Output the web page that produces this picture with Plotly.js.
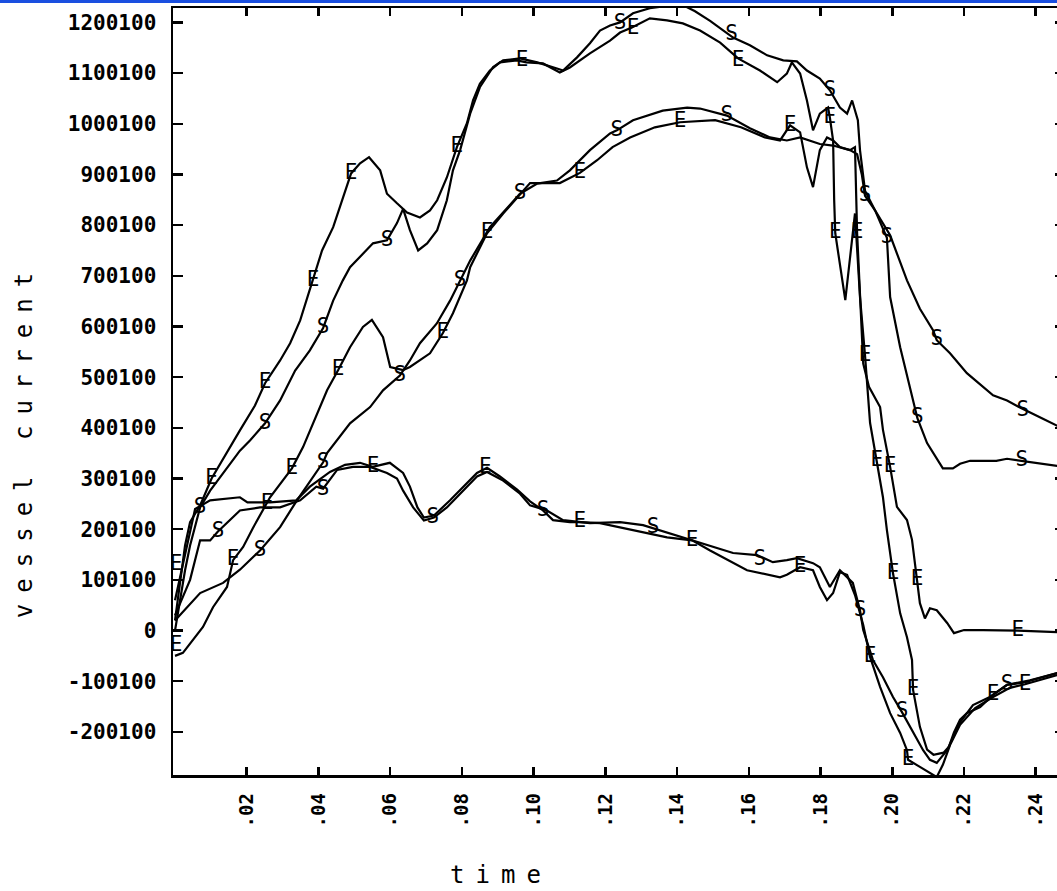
<!DOCTYPE html>
<html>
<head>
<meta charset="utf-8">
<script src="https://cdn.plot.ly/plotly-3.0.1.min.js"></script>
<style>
  html, body { margin: 0; padding: 0; background: #fff; overflow: hidden; }
  #chart { width: 1100px; height: 891px; }
</style>
</head>
<body>
<div id="chart"></div>
<script>
// ---- tick labels ----
const xTickVals = [0.02, 0.04, 0.06, 0.08, 0.10, 0.12, 0.14, 0.16, 0.18, 0.20, 0.22, 0.24];
const xTickText = ['.02', '.04', '.06', '.08', '.10', '.12', '.14', '.16', '.18', '.20', '.22', '.24'];
const yTickVals = [-200, -100, 0, 100, 200, 300, 400, 500, 600, 700, 800, 900, 1000, 1100, 1200];
const yTickText = ['-200100', '-100100', '0', '100100', '200100', '300100', '400100', '500100', '600100', '700100', '800100', '900100', '1000100', '1100100', '1200100'];

// ---- series (time, vessel current in thousands) ----
const aE_t = [0, 0.0014, 0.0028, 0.0042, 0.0070, 0.0102, 0.0139, 0.0181, 0.0223, 0.0251, 0.0293, 0.0321, 0.0349, 0.0385, 0.0410, 0.0441, 0.0470, 0.0491, 0.0516, 0.0541, 0.0572, 0.0591, 0.0619, 0.0647, 0.0683, 0.0711, 0.0731, 0.0758, 0.0786, 0.0814, 0.0831, 0.0850, 0.0878, 0.0906, 0.0954, 0.0980, 0.1026, 0.1073, 0.1101, 0.1157, 0.1213, 0.1241, 0.1274, 0.1324, 0.1372, 0.1416, 0.1464, 0.1520, 0.1570, 0.1631, 0.1679, 0.1706, 0.1720, 0.1743, 0.1762, 0.1779, 0.1798, 0.1821, 0.1826, 0.1835, 0.1838, 0.1841, 0.1869, 0.1896, 0.1910, 0.1924, 0.1938, 0.1957, 0.1974, 0.1985, 0.1994, 0.2002, 0.2022, 0.2041, 0.2055, 0.2058, 0.2077, 0.2097, 0.2115, 0.2143, 0.2158, 0.2172, 0.2189, 0.2208, 0.2245, 0.2281, 0.2320, 0.2364, 0.2460, 0.2490];
const aE_v = [20, 100, 168, 214, 247, 300, 345, 395, 444, 488, 533, 567, 612, 691, 750, 796, 855, 902, 922, 934, 908, 862, 843, 825, 815, 829, 849, 894, 954, 1001, 1046, 1079, 1105, 1121, 1125, 1121, 1119, 1101, 1111, 1139, 1164, 1180, 1190, 1208, 1204, 1198, 1184, 1160, 1129, 1105, 1082, 1099, 1121, 1099, 1046, 987, 1020, 1032, 1012, 967, 849, 784, 652, 823, 658, 543, 410, 336, 263, 198, 154, 113, 34, -13, -58, -117, -190, -235, -245, -241, -229, -201, -176, -163, -151, -127, -107, -103, -84, -80];

const aS_t = [0, 0.0014, 0.0028, 0.0042, 0.0070, 0.0098, 0.0139, 0.0181, 0.0209, 0.0251, 0.0293, 0.0335, 0.0376, 0.0413, 0.0441, 0.0468, 0.0488, 0.0524, 0.0552, 0.0591, 0.0619, 0.0636, 0.0655, 0.0678, 0.0703, 0.0731, 0.0758, 0.0775, 0.0795, 0.0823, 0.0850, 0.0887, 0.0915, 0.0962, 0.1010, 0.1065, 0.1082, 0.1121, 0.1157, 0.1185, 0.1213, 0.1241, 0.1277, 0.1324, 0.1366, 0.1422, 0.1450, 0.1492, 0.1556, 0.1603, 0.1651, 0.1696, 0.1734, 0.1762, 0.1798, 0.1826, 0.1854, 0.1874, 0.1888, 0.1904, 0.1910, 0.1924, 0.1952, 0.1985, 0.1994, 0.2022, 0.2049, 0.2070, 0.2097, 0.2113, 0.2141, 0.2169, 0.2189, 0.2217, 0.2290, 0.2320, 0.2361, 0.2392, 0.2460, 0.2490];
const aS_v = [0, 60, 119, 168, 243, 276, 316, 355, 375, 409, 454, 513, 553, 597, 651, 691, 717, 744, 764, 770, 804, 832, 790, 750, 764, 790, 849, 908, 948, 1020, 1072, 1112, 1125, 1129, 1121, 1109, 1105, 1131, 1159, 1184, 1194, 1200, 1218, 1228, 1232, 1232, 1222, 1203, 1170, 1155, 1135, 1125, 1123, 1105, 1089, 1066, 1032, 1020, 1046, 1007, 948, 868, 829, 775, 658, 559, 480, 419, 370, 351, 320, 320, 329, 335, 335, 339, 335, 331, 325, 322];

const bE_t = [0, 0.0022, 0.0078, 0.0106, 0.0145, 0.0162, 0.0190, 0.0217, 0.0265, 0.0300, 0.0326, 0.0357, 0.0385, 0.0424, 0.0455, 0.0488, 0.0524, 0.0549, 0.0580, 0.0600, 0.0636, 0.0655, 0.0711, 0.0747, 0.0775, 0.0814, 0.0823, 0.0870, 0.0915, 0.0954, 0.0990, 0.1037, 0.1073, 0.1129, 0.1177, 0.1220, 0.1269, 0.1338, 0.1408, 0.1506, 0.1578, 0.1645, 0.1687, 0.1715, 0.1743, 0.1762, 0.1779, 0.1798, 0.1818, 0.1835, 0.1854, 0.1882, 0.1896, 0.1902, 0.1910, 0.1919, 0.1935, 0.1966, 0.1974, 0.1994, 0.2013, 0.2041, 0.2055, 0.2069, 0.2077, 0.2091, 0.2105, 0.2124, 0.2153, 0.2172, 0.2200, 0.2253, 0.2350, 0.2460, 0.2490];
const bE_v = [-50, -44, 7, 46, 86, 139, 165, 202, 263, 297, 320, 362, 409, 474, 514, 559, 599, 613, 579, 520, 514, 520, 547, 587, 626, 691, 717, 784, 823, 855, 883, 883, 883, 903, 928, 954, 973, 993, 1003, 1007, 993, 973, 967, 997, 983, 914, 875, 948, 973, 967, 954, 948, 954, 784, 671, 527, 481, 441, 396, 323, 244, 218, 179, 100, 54, 24, 44, 40, 15, -5, 1, 1, 0, -3, -3];

const bS_t = [0, 0.0070, 0.0134, 0.0181, 0.0237, 0.0293, 0.0340, 0.0385, 0.0413, 0.0424, 0.0488, 0.0544, 0.0580, 0.0627, 0.0655, 0.0683, 0.0730, 0.0767, 0.0795, 0.0823, 0.0878, 0.0926, 0.0962, 0.1010, 0.1065, 0.1101, 0.1157, 0.1213, 0.1232, 0.1277, 0.1360, 0.1428, 0.1464, 0.1539, 0.1603, 0.1659, 0.1706, 0.1743, 0.1771, 0.1798, 0.1835, 0.1882, 0.1902, 0.1915, 0.1924, 0.1952, 0.1994, 0.2041, 0.2077, 0.2114, 0.2124, 0.2161, 0.2208, 0.2253, 0.2281, 0.2320, 0.2356, 0.2420, 0.2460, 0.2490];
const bS_v = [20, 74, 94, 120, 158, 204, 257, 303, 332, 350, 409, 441, 474, 503, 533, 567, 606, 651, 691, 730, 796, 835, 862, 882, 888, 908, 948, 981, 987, 1007, 1026, 1032, 1030, 1016, 991, 973, 967, 973, 967, 960, 957, 948, 940, 900, 858, 829, 780, 691, 635, 592, 573, 547, 508, 481, 464, 454, 440, 418, 404, 398];

const cE_t = [0, 0.0028, 0.0056, 0.0098, 0.0181, 0.0202, 0.0265, 0.0338, 0.0376, 0.0432, 0.0474, 0.0516, 0.0551, 0.0599, 0.0636, 0.0655, 0.0676, 0.0694, 0.0722, 0.0767, 0.0804, 0.0842, 0.0870, 0.0906, 0.0954, 0.0990, 0.1026, 0.1054, 0.1101, 0.1129, 0.1185, 0.1277, 0.1372, 0.1442, 0.1492, 0.1595, 0.1651, 0.1687, 0.1706, 0.1743, 0.1779, 0.1798, 0.1818, 0.1835, 0.1854, 0.1874, 0.1896, 0.1919, 0.1938, 0.1966, 0.1994, 0.2022, 0.2041, 0.2044, 0.2077, 0.2105, 0.2124, 0.2141, 0.2161, 0.2189, 0.2231, 0.2281, 0.2328, 0.2370, 0.2460, 0.2490];
const cE_v = [60, 150, 240, 257, 263, 253, 253, 257, 284, 313, 327, 331, 323, 331, 311, 284, 243, 223, 227, 257, 284, 311, 321, 304, 278, 255, 237, 218, 214, 214, 212, 198, 184, 178, 158, 119, 110, 105, 110, 125, 119, 86, 60, 74, 115, 110, 70, 11, -52, -111, -163, -202, -236, -255, -269, -281, -289, -265, -226, -186, -153, -131, -113, -106, -88, -85];

const cS_t = [0, 0.0042, 0.0070, 0.0098, 0.0119, 0.0153, 0.0181, 0.0237, 0.0293, 0.0349, 0.0394, 0.0413, 0.0452, 0.0496, 0.0544, 0.0591, 0.0619, 0.0636, 0.0664, 0.0694, 0.0722, 0.0758, 0.0795, 0.0842, 0.0870, 0.0915, 0.0962, 0.0990, 0.1037, 0.1082, 0.1157, 0.1241, 0.1305, 0.1333, 0.1372, 0.1416, 0.1492, 0.1556, 0.1623, 0.1667, 0.1706, 0.1734, 0.1779, 0.1798, 0.1826, 0.1854, 0.1890, 0.1902, 0.1910, 0.1919, 0.1946, 0.1974, 0.2002, 0.2027, 0.2058, 0.2086, 0.2105, 0.2124, 0.2153, 0.2189, 0.2225, 0.2272, 0.2320, 0.2384, 0.2460, 0.2490];
const cS_v = [30, 100, 178, 178, 195, 217, 237, 243, 243, 257, 284, 280, 317, 323, 323, 311, 300, 276, 243, 217, 223, 243, 270, 304, 313, 296, 270, 247, 237, 218, 212, 214, 208, 202, 194, 184, 168, 153, 149, 135, 139, 143, 133, 125, 86, 119, 94, 60, 40, 1, -58, -92, -131, -161, -202, -236, -255, -261, -236, -181, -147, -131, -107, -98, -84, -82];

// ---- curve label characters placed along the curves ----
const aE_lab_t = [0.0003, 0.0102, 0.0251, 0.0385, 0.0491, 0.0786, 0.0968, 0.1277, 0.1570, 0.1826, 0.1841, 0.1924, 0.1957, 0.2002, 0.2058, 0.2281];
const aE_lab_v = [130, 300, 488, 691, 902, 954, 1125, 1188, 1124, 1012, 784, 543, 336, 113, -117, -127];
const aS_lab_t = [0.0070, 0.0251, 0.0413, 0.0591, 0.1241, 0.1552, 0.1826, 0.1985, 0.2070, 0.2361];
const aS_lab_v = [243, 409, 597, 770, 1198, 1176, 1066, 775, 419, 335];
const bE_lab_t = [0.0003, 0.0162, 0.0326, 0.0455, 0.0747, 0.0870, 0.1129, 0.1408, 0.1715, 0.1902, 0.1994, 0.2069, 0.2350];
const bE_lab_v = [-30, 139, 320, 514, 587, 784, 903, 1003, 997, 784, 323, 100, 0];
const bS_lab_t = [0.0237, 0.0413, 0.0627, 0.0795, 0.0962, 0.1232, 0.1539, 0.1924, 0.2124, 0.2364];
const bS_lab_v = [158, 332, 503, 691, 862, 987, 1016, 858, 573, 434];
const cE_lab_t = [0.0257, 0.0552, 0.0865, 0.1129, 0.1442, 0.1743, 0.1938, 0.2044, 0.2370];
const cE_lab_v = [251, 323, 321, 214, 178, 125, -52, -255, -106];
const cS_lab_t = [0.0120, 0.0413, 0.0719, 0.1026, 0.1333, 0.1631, 0.1910, 0.2027, 0.2320];
const cS_lab_v = [194, 277, 223, 237, 202, 139, 40, -161, -107];

const MONO = 'DejaVu Sans Mono, Liberation Mono, monospace';

function lineTrace(t, v) {
  return { x: t, y: v, type: 'scatter', mode: 'lines',
           line: { color: '#000', width: 2.2 }, hoverinfo: 'skip' };
}
function labelTrace(t, v, ch) {
  return { x: t, y: v, type: 'scatter', mode: 'text',
           text: t.map(() => ch), textposition: 'middle center',
           textfont: { family: MONO, size: 21, color: '#000' }, hoverinfo: 'skip' };
}

const data = [
  lineTrace(aE_t, aE_v), lineTrace(aS_t, aS_v),
  lineTrace(bE_t, bE_v), lineTrace(bS_t, bS_v),
  lineTrace(cE_t, cE_v), lineTrace(cS_t, cS_v),
  labelTrace(aE_lab_t, aE_lab_v, 'E'), labelTrace(aS_lab_t, aS_lab_v, 'S'),
  labelTrace(bE_lab_t, bE_lab_v, 'E'), labelTrace(bS_lab_t, bS_lab_v, 'S'),
  labelTrace(cE_lab_t, cE_lab_v, 'E'), labelTrace(cS_lab_t, cS_lab_v, 'S')
];

const layout = {
  width: 1100, height: 891,
  margin: { l: 173, r: 35, t: 8, b: 116 },
  paper_bgcolor: '#fff', plot_bgcolor: '#fff',
  showlegend: false,
  font: { family: MONO, color: '#000' },
  xaxis: {
    range: [-0.00056, 0.24816],
    tickmode: 'array', tickvals: xTickVals, ticktext: xTickText,
    tickangle: -90,
    ticks: 'inside', ticklen: 8, tickwidth: 2.5, tickcolor: '#000',
    showline: true, linewidth: 2.5, linecolor: '#000', mirror: 'ticks',
    showgrid: false, zeroline: false,
    tickfont: { family: MONO, size: 19, color: '#000', weight: 'bold' },
    ticklabelstandoff: 8,
    title: { text: 'time', font: { family: MONO, size: 24, color: '#000' } }
  },
  yaxis: {
    range: [-285, 1228.4],
    tickmode: 'array', tickvals: yTickVals, ticktext: yTickText,
    ticks: 'inside', ticklen: 10, tickwidth: 2.5, tickcolor: '#000',
    showline: true, linewidth: 2.5, linecolor: '#000', mirror: 'ticks',
    showgrid: false, zeroline: false,
    tickfont: { family: MONO, size: 21, color: '#000', weight: 'bold' },
    ticklabelstandoff: 10,
    title: { text: 'vessel current', font: { family: MONO, size: 24, color: '#000' } }
  },
  shapes: [{
    type: 'rect', xref: 'paper', yref: 'paper', layer: 'above',
    x0: -0.25, x1: 1.1, y0: 1.0065, y1: 1.0125,
    fillcolor: '#1a4fe0', line: { width: 0 }
  }]
};

// move a title so that its box is centred on (cx, cy), keeping Plotly's own transform
function placeCenter(el, cx, cy) {
  const r = el.getBoundingClientRect();
  const dx = cx - (r.left + r.right) / 2;
  const dy = cy - (r.top + r.bottom) / 2;
  const tr = el.getAttribute('transform') || '';
  el.setAttribute('transform', 'translate(' + dx + ',' + dy + ') ' + tr);
}

Plotly.newPlot('chart', data, layout, { displayModeBar: false, staticPlot: true }).then(function () {
  const xt = document.querySelector('text.xtitle');
  if (xt) {
    xt.style.letterSpacing = '11px';
    placeCenter(xt, 501, 875);
  }
  const yt = document.querySelector('text.ytitle');
  if (yt) {
    yt.style.letterSpacing = '11px';
    placeCenter(yt, 24, 440);
  }
});
</script>
</body>
</html>
